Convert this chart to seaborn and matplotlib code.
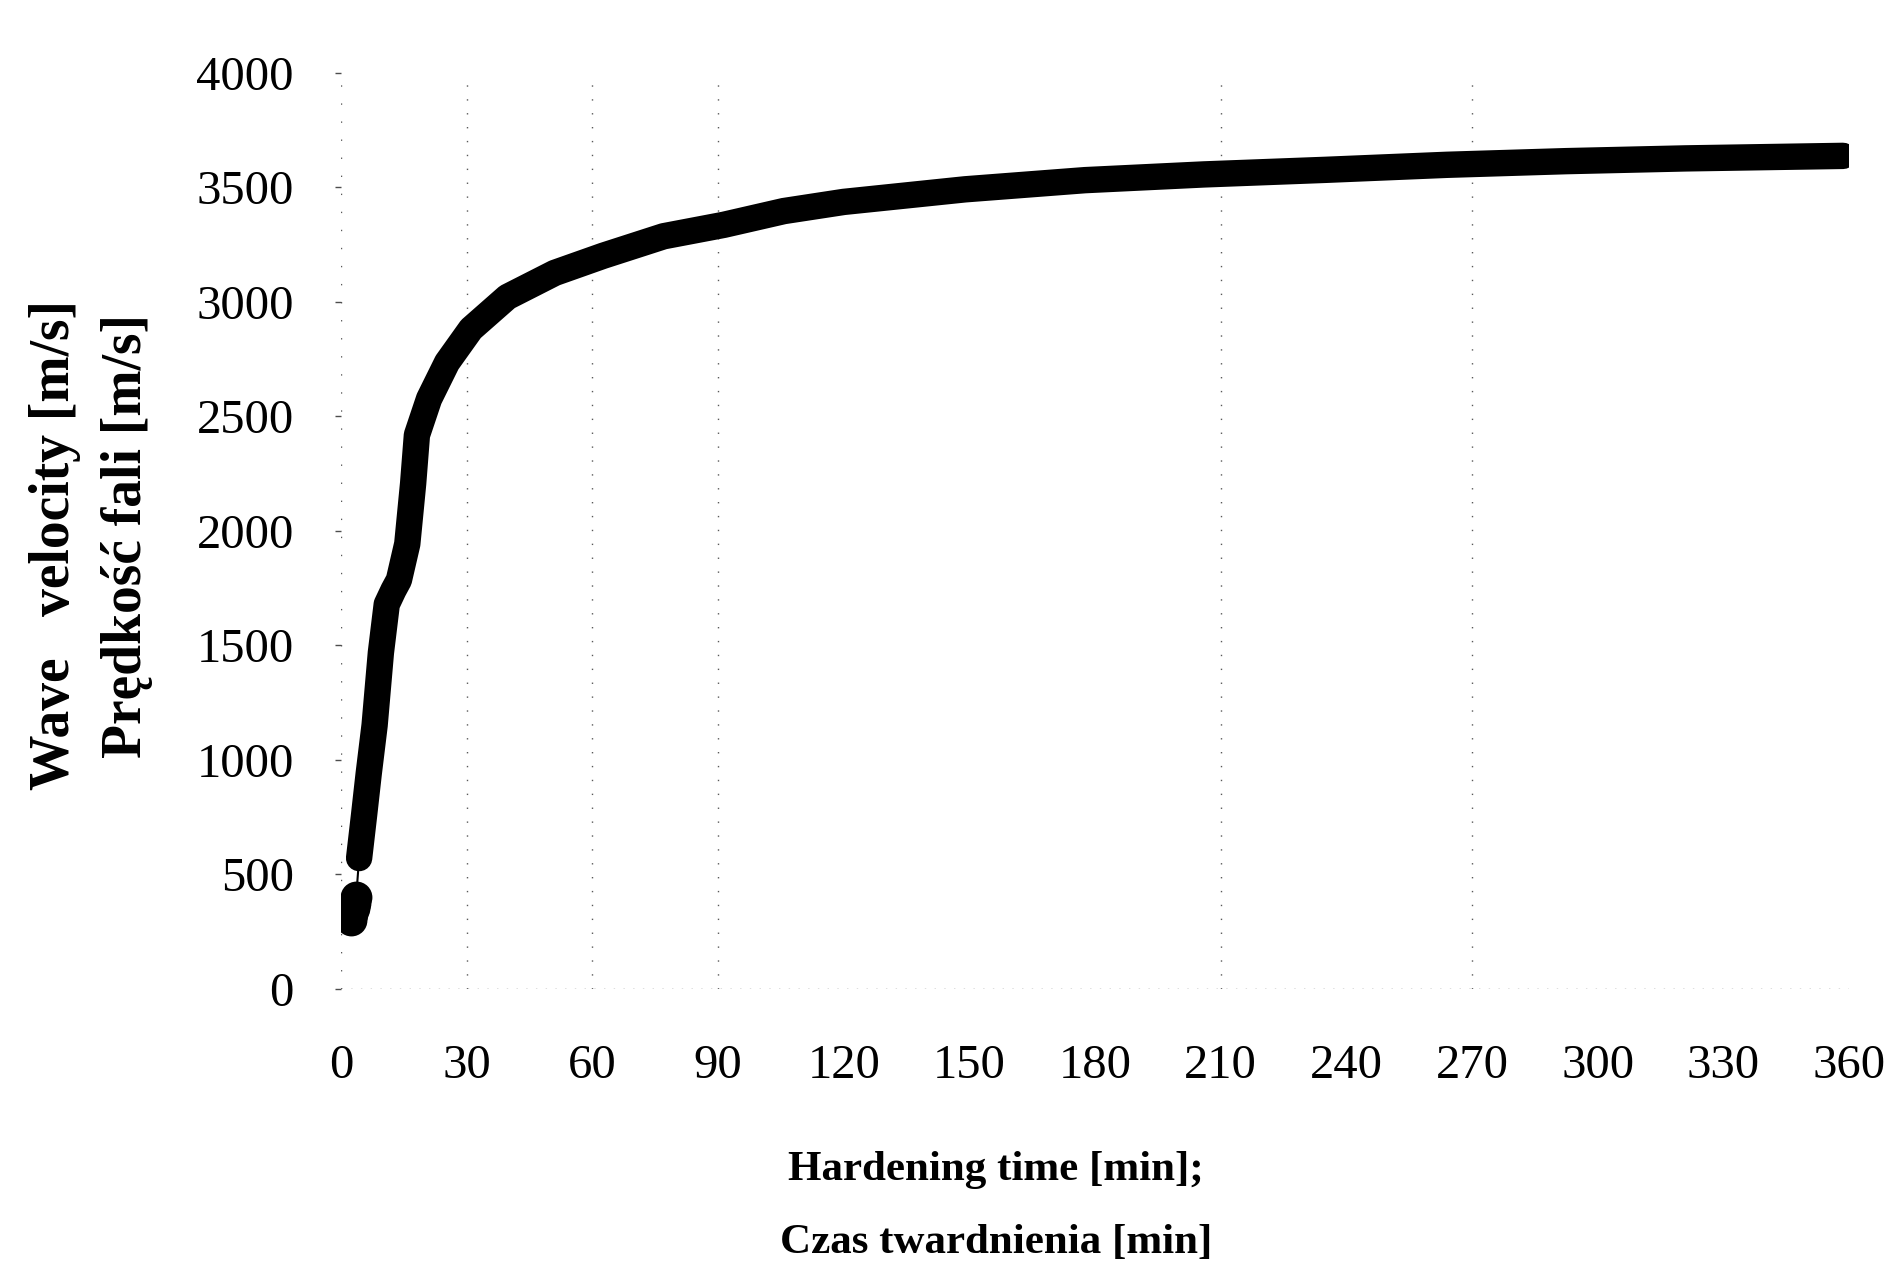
import numpy as np
import pandas as pd
import matplotlib
matplotlib.use("Agg")
import matplotlib.pyplot as plt
import seaborn as sns

# values
time_min = [2.4, 2.7, 3.0, 3.3, 3.6, 4.3, 5.5, 6.6, 8.0, 9.5, 10.9, 12.5, 13.8,
            15.8, 17.2, 18.1, 21.0, 25.3, 31.0, 39.7, 51.0, 62.6, 77.0, 91.4,
            105.7, 120.0, 149.0, 177.6, 206.0, 235.0, 264.0, 292.5, 321.0, 358.6]
velocity = [300, 325, 350, 375, 400, 570, 760, 940, 1150, 1467, 1678, 1740, 1784,
            1942, 2206, 2417, 2575, 2734, 2880, 3020, 3125, 3200, 3285, 3335,
            3395, 3435, 3490, 3530, 3555, 3575, 3597, 3613, 3625, 3636]
n_early = 5  # first readings drawn as separate dots

x_ticks = list(range(0, 361, 30))
y_ticks = list(range(0, 4001, 500))
grid_x = [30, 60, 90, 210, 270]

df = pd.DataFrame({"t": time_min, "v": velocity})

sns.set_theme(style="white")
plt.rcParams["font.family"] = ["Liberation Serif", "DejaVu Serif"]
plt.rcParams["text.color"] = "black"
plt.rcParams["xtick.color"] = "black"
plt.rcParams["ytick.color"] = "black"

fig = plt.figure(figsize=(18.95, 12.61), dpi=100)
ax = fig.add_axes([0.18, 0.216, 0.7957, 0.7265])

# faint dotted grid, like the scan
for gx in grid_x:
    ax.axvline(gx, color="0.35", lw=1.0, ls=(0, (1, 9)), zorder=0)
ax.axhline(0, color="0.35", lw=1.0, ls=(0, (1, 6)), zorder=0)
ax.axvline(0, color="0.35", lw=1.0, ls=(0, (1, 12)), zorder=0)

# thin connecting line through all readings
ax.plot(df["t"], df["v"], color="black", lw=1.5, zorder=2)
# thick trace of the main curve
sns.lineplot(data=df.iloc[n_early:], x="t", y="v", ax=ax, color="black",
             lw=19, solid_capstyle="round", solid_joinstyle="round",
             sort=False, zorder=3)
# early readings as dots
sns.scatterplot(data=df.iloc[:n_early], x="t", y="v", ax=ax, color="black",
                s=450, edgecolor="black", zorder=4)

ax.set_xlim(0, 360)
ax.set_ylim(0, 4000)
ax.set_xticks(x_ticks)
ax.set_yticks(y_ticks)
ax.tick_params(axis="x", length=0, pad=40, labelsize=35)
ax.tick_params(axis="y", length=4, width=1, direction="out", pad=30,
               labelsize=35, left=True, color="0.3")
for s in ax.spines.values():
    s.set_visible(False)
ax.set_xlabel("")
ax.set_ylabel("")

fig.text(0.5255, 0.072, "Hardening time [min];", ha="center", va="center",
         fontsize=31, fontweight="bold")
fig.text(0.5255, 0.014, "Czas twardnienia [min]", ha="center", va="center",
         fontsize=31, fontweight="bold")
fig.text(0.029, 0.568, "Wave   velocity [m/s]", ha="center", va="center",
         rotation=90, fontsize=40, fontweight="bold")
fig.text(0.067, 0.575, "Prędkość fali [m/s]", ha="center", va="center",
         rotation=90, fontsize=40, fontweight="bold")

fig.savefig("out.png", dpi=100, facecolor="white")
